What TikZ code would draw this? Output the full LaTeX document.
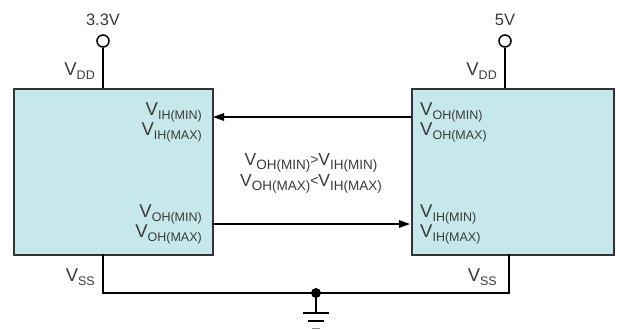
\documentclass[tikz,border=0pt]{standalone}
\usepackage{fontspec}
\setmainfont{Liberation Sans}
\usetikzlibrary{arrows.meta}
\definecolor{boxfill}{HTML}{C6E8EA}
\definecolor{txt}{HTML}{3A3A3A}
\definecolor{edge}{HTML}{333333}
\newcommand{\sg}[1]{\fontsize{18.5}{20}\selectfont V\raisebox{-4pt}{\fontsize{12.5}{13}\selectfont #1}}
\newcommand{\sgm}[1]{\fontsize{17.5}{19}\selectfont V\raisebox{-4pt}{\fontsize{13.5}{14}\selectfont #1}}
\newcommand{\rel}[1]{\raisebox{1pt}{\fontsize{14}{14}\selectfont #1}}
\tikzset{
  chip/.style={draw=edge, line width=2.2pt, fill=boxfill},
  wire/.style={draw=black, line width=1.4pt},
  sig/.style={inner sep=0pt, text=txt},
  sigarrow/.style={wire, -{Triangle[length=11pt,width=7.5pt]}},
  pin/.style={circle, draw=black, line width=1.5pt, fill=white, minimum size=12pt, inner sep=0pt},
}
\begin{document}
\begin{tikzpicture}[x=1pt,y=-1pt]
\useasboundingbox (0,0) rectangle (625,330);
% boxes
\node[chip, minimum width=199pt, minimum height=166pt, anchor=north west, inner sep=0pt] (L) at (13,88) {};
\node[chip, minimum width=202pt, minimum height=166pt, anchor=north west, inner sep=0pt] (R) at (411,88) {};
% supply pins
\node[pin] (pL) at (103,41) {};
\node[pin] (pR) at (505,41) {};
\coordinate (tL) at (103,88);
\coordinate (tR) at (505,88);
\draw[wire] (pL) -- (tL);
\draw[wire] (pR) -- (tR);
\node[sig, anchor=base] (vL) at (103,25) {\fontsize{16.5}{18}\selectfont 3.3V};
\node[sig, anchor=base] (vR) at (505,25) {\fontsize{16.5}{18}\selectfont 5V};
\node[sig, anchor=base east] (vddL) at (95,75) {\sg{DD}};
\node[sig, anchor=base east] (vddR) at (497,75) {\sg{DD}};
% labels in left box
\node[sig, anchor=base east] (l1) at (202,115) {\sg{IH(MIN)}};
\node[sig, anchor=base east] (l2) at (202,135) {\sg{IH(MAX)}};
\node[sig, anchor=base east] (l3) at (202,217) {\sg{OH(MIN)}};
\node[sig, anchor=base east] (l4) at (202,237) {\sg{OH(MAX)}};
% labels in right box
\node[sig, anchor=base west] (r1) at (420,115) {\sg{OH(MIN)}};
\node[sig, anchor=base west] (r2) at (420,135) {\sg{OH(MAX)}};
\node[sig, anchor=base west] (r3) at (420,217) {\sg{IH(MIN)}};
\node[sig, anchor=base west] (r4) at (420,237) {\sg{IH(MAX)}};
% arrows
\coordinate (aR1) at (411,117);
\coordinate (aL1) at (213,117);
\coordinate (aL2) at (212,224);
\coordinate (aR2) at (410,224);
\draw[sigarrow] (aR1) -- (aL1);
\draw[sigarrow] (aL2) -- (aR2);
% middle condition text
\node[sig, anchor=base] (c1) at (311,165) {\sgm{OH(MIN)}\rel{>}\sgm{IH(MIN)}};
\node[sig, anchor=base] (c2) at (311,186) {\sgm{OH(MAX)}\rel{<}\sgm{IH(MAX)}};
% ground rails
\coordinate (bL) at (103,254);
\coordinate (bR) at (509,254);
\coordinate (gL) at (103,293);
\coordinate (gR) at (509,293);
\coordinate (gnd) at (316,293);
\draw[wire] (bL) -- (gL) -- (gR) -- (bR);
\node[sig, anchor=base east] (vssL) at (95,281) {\sg{SS}};
\node[sig, anchor=base east] (vssR) at (497,281) {\sg{SS}};
\fill[black] (gnd) circle (5pt);
\coordinate (g1) at (316,313);
\draw[wire] (gnd) -- (g1);
\draw[wire] (303,313) -- (329,313);
\draw[wire] (308,321) -- (324,321);
\draw[line width=1.4pt, black!45] (312,328.5) -- (320,328.5);
\end{tikzpicture}
\end{document}
